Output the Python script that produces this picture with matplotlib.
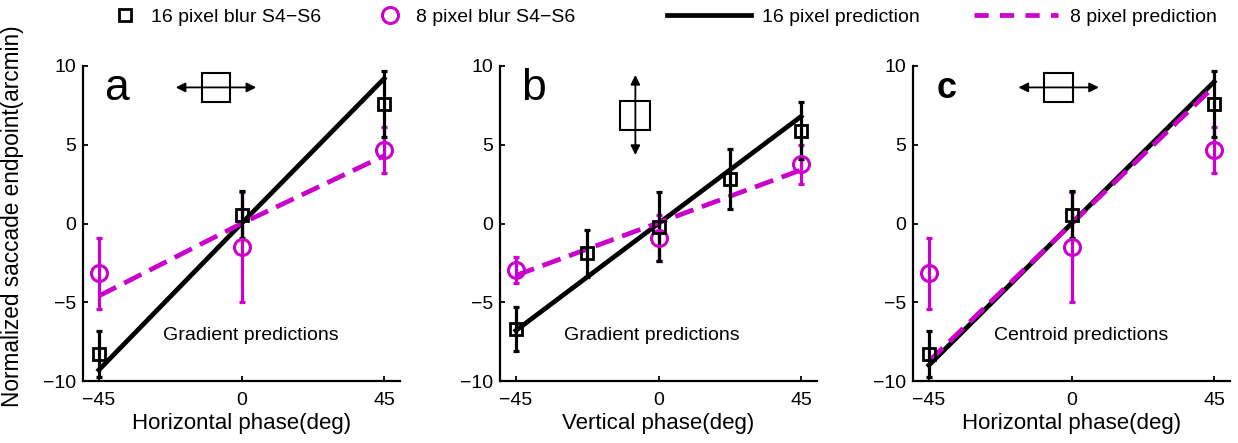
import matplotlib
matplotlib.use("Agg")
import matplotlib.pyplot as plt
from matplotlib.lines import Line2D
from matplotlib.patches import Rectangle

plt.rcParams["font.family"] = ["Liberation Sans", "DejaVu Sans"]

MAG = "#cc00cc"
DASH = (4.1, 1.9)

# ── data ─────────────────────────────────────────────────────────────────────
x3 = [-45, 0, 45]
x5 = [-45, -22.5, 0, 22.5, 45]
x_end = [-45, 45]

# panel a / c : horizontal phase
h16 = [-8.3, 0.55, 7.6]
h16_err = [1.45, 1.5, 2.1]
h8 = [-3.15, -1.5, 4.65]
h8_err = [2.25, 3.5, 1.45]

# panel b : vertical phase
v16 = [-6.7, -1.9, -0.2, 2.8, 5.9]
v16_err = [1.4, 1.5, 2.2, 1.9, 1.8]
v8 = [-2.95, -0.9, 3.75]
v8_err = [0.8, 1.45, 1.25]

# predictions
pred16_a = [-9.3, 0, 9.2]
pred8_a = [-4.6, 0, 4.3]
pred16_b = [-6.8, 6.8]
pred8_b = [-3.3, 3.4]
pred16_c = [-9.0, 9.0]
pred8_c = [-8.75, 8.7]

panels = [
    dict(letter="a", lsize=32, lweight="normal", xlabel="Horizontal phase(deg)",
         x16=x3, y16=h16, e16=h16_err, x8=x3, y8=h8, e8=h8_err,
         px16=x3, p16=pred16_a, px8=x3, p8=pred8_a,
         note="Gradient predictions", note_x=3.0, icon="h", icon_x=-12.6),
    dict(letter="b", lsize=32, lweight="normal", xlabel="Vertical phase(deg)",
         x16=x5, y16=v16, e16=v16_err, x8=x3, y8=v8, e8=v8_err,
         px16=x_end, p16=pred16_b, px8=x_end, p8=pred8_b,
         note="Gradient predictions", note_x=-2.0, icon="v", icon_x=-12.0),
    dict(letter="c", lsize=26, lweight="bold", xlabel="Horizontal phase(deg)",
         x16=x3, y16=h16, e16=h16_err, x8=x3, y8=h8, e8=h8_err,
         px16=x_end, p16=pred16_c, px8=x_end, p8=pred8_c,
         note="Centroid predictions", note_x=2.9, icon="h", icon_x=-8.6),
]

W, H = 1238, 443
fig = plt.figure(figsize=(W / 100, H / 100), dpi=100)
lefts = [83, 500, 913]

for left, p in zip(lefts, panels):
    ax = fig.add_axes([left / W, 1 - 381 / H, 317 / W, 315 / H])

    # prediction lines
    ax.plot(p["px16"], p["p16"], color="black", lw=3.4, zorder=2)
    ax.plot(p["px8"], p["p8"], color=MAG, lw=3.4, dashes=DASH, zorder=2.1)

    # 8 pixel data
    ax.errorbar(p["x8"], p["y8"], yerr=p["e8"], fmt="none", ecolor=MAG,
                elinewidth=2.3, capsize=2, capthick=2.3, zorder=3)
    ax.plot(p["x8"], p["y8"], ls="none", marker="o", ms=11.5, mfc="none",
            mec=MAG, mew=2.2, zorder=4)
    # 16 pixel data
    ax.errorbar(p["x16"], p["y16"], yerr=p["e16"], fmt="none", ecolor="black",
                elinewidth=2.3, capsize=2, capthick=2.3, zorder=3.5)
    ax.plot(p["x16"], p["y16"], ls="none", marker="s", ms=8.5, mfc="none",
            mec="black", mew=2.0, zorder=4.5)

    # panel letter and note
    ax.text(-39.5, 8.6, p["letter"], fontsize=p["lsize"], fontweight=p["lweight"],
            ha="center", va="center")
    ax.text(p["note_x"], -7.1, p["note"], fontsize=14, ha="center", va="center")

    # stimulus icon
    if p["icon"] == "h":
        ax.add_patch(Rectangle((p["icon_x"], 7.73), 9.1, 1.84, fill=False,
                               lw=1.5, ec="black", zorder=5))
        cx = p["icon_x"] + 4.55
        ax.annotate("", xy=(cx + 12.7, 8.64), xytext=(cx - 12.7, 8.64),
                    arrowprops=dict(arrowstyle="<|-|>", color="black", lw=1.3,
                                    mutation_scale=14, shrinkA=0, shrinkB=0))
    else:
        ax.add_patch(Rectangle((p["icon_x"], 5.94), 9.4, 1.86, fill=False,
                               lw=1.5, ec="black", zorder=5))
        cx = p["icon_x"] + 4.7
        ax.annotate("", xy=(cx, 9.43), xytext=(cx, 4.35),
                    arrowprops=dict(arrowstyle="<|-|>", color="black", lw=1.3,
                                    mutation_scale=14, shrinkA=0, shrinkB=0))

    ax.set_xlim(-50, 50)
    ax.set_ylim(-10, 10)
    ax.set_xticks([-45, 0, 45])
    ax.set_yticks([-10, -5, 0, 5, 10])
    ax.spines["top"].set_visible(False)
    ax.spines["right"].set_visible(False)
    for s in ("left", "bottom"):
        ax.spines[s].set_linewidth(1.6)
    ax.tick_params(direction="in", length=3.5, width=1.3, labelsize=14)
    ax.tick_params(axis="x", pad=8)
    ax.tick_params(axis="y", pad=5)
    ax.set_xlabel(p["xlabel"], fontsize=16, labelpad=3)
    if p["letter"] == "a":
        ax.set_ylabel("Normalized saccade endpoint(arcmin)", fontsize=16.3)
        ax.yaxis.set_label_coords(-0.185, 0.524)


# ── legend across the top ────────────────────────────────────────────────────
marker_handles = [
    Line2D([], [], ls="none", marker="s", ms=8.5, mfc="none", mec="black", mew=2.0),
    Line2D([], [], ls="none", marker="o", ms=11.5, mfc="none", mec=MAG, mew=2.2),
]
fig.legend(marker_handles, ["16 pixel blur S4\u2212S6", "8 pixel blur S4\u2212S6"],
           loc="center left", bbox_to_anchor=(110 / W, 1 - 17 / H), ncol=2,
           frameon=False, fontsize=14, borderpad=0, borderaxespad=0,
           handlelength=1.5, handletextpad=0.6, columnspacing=2.8, numpoints=1)

line_handles = [
    Line2D([], [], color="black", lw=3.4),
    Line2D([], [], color=MAG, lw=3.4, dashes=(3.0, 2.4)),
]
fig.legend(line_handles, ["16 pixel prediction", "8 pixel prediction"],
           loc="center left", bbox_to_anchor=(667 / W, 1 - 17 / H), ncol=2,
           frameon=False, fontsize=14, borderpad=0, borderaxespad=0,
           handlelength=4.3, handletextpad=0.6, columnspacing=2.8)

fig.savefig("out.png", dpi=100)
